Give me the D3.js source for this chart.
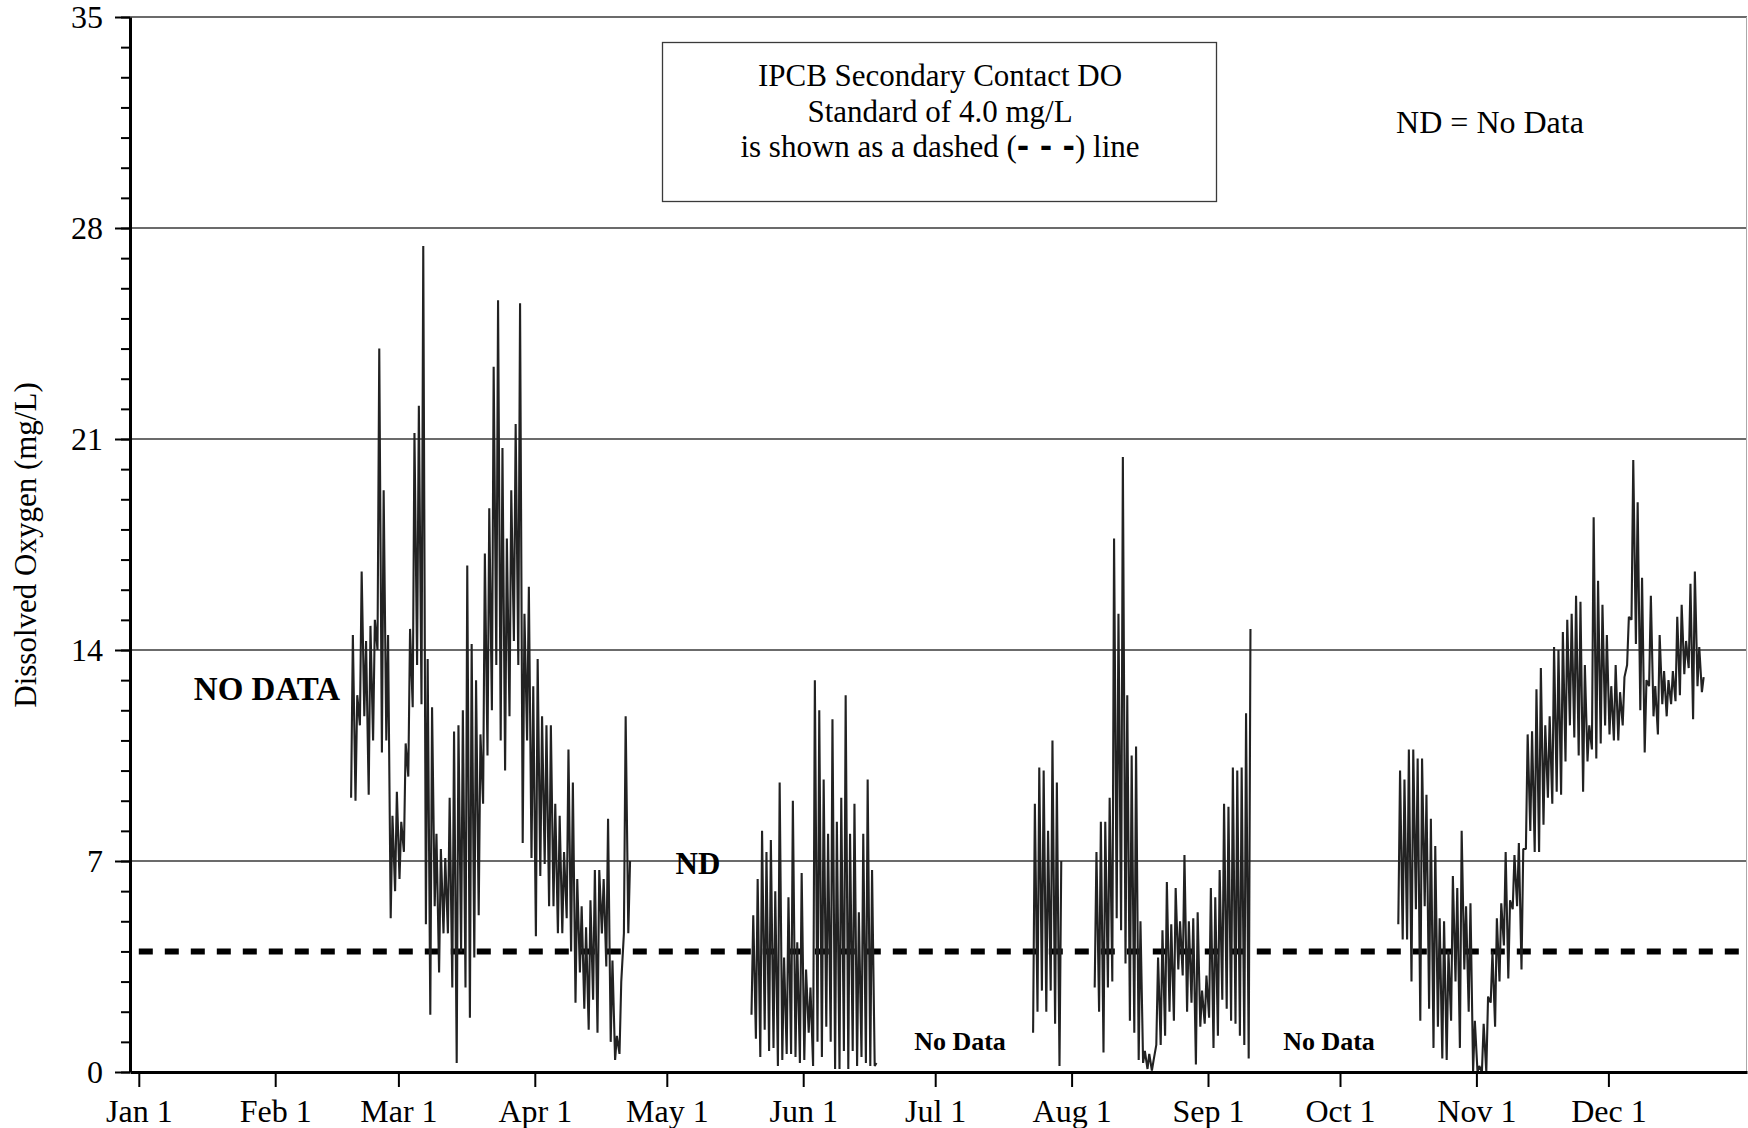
<!DOCTYPE html>
<html>
<head>
<meta charset="utf-8">
<script src="https://cdn.jsdelivr.net/npm/d3@7"></script>
<style>
  body { margin: 0; background: #fff; }
  svg { display: block; font-family: "Liberation Serif", "Times New Roman", serif; }
</style>
</head>
<body>
<svg id="chart" width="1748" height="1128"></svg>
<script>
// ---- data ----
const monthLabels = ["Jan 1", "Feb 1", "Mar 1", "Apr 1", "May 1", "Jun 1",
                     "Jul 1", "Aug 1", "Sep 1", "Oct 1", "Nov 1", "Dec 1"];
const yMajorTicks = [0, 7, 14, 21, 28, 35];
const standardDO = 4.0;

// each record stretch: first day of year (0 = Jan 1) and daily high / low DO (mg/L)
const seg1Start = 48;
const seg1High = [14.5, 12.5, 16.6, 14.3, 14.8, 15.0, 24.0, 19.3, 14.5, 8.5, 9.3, 8.3, 10.9, 14.7, 21.2, 22.1,
                  27.4, 13.7, 12.1, 7.9, 7.4, 7.1, 9.1, 11.3, 11.5, 12.0, 16.8, 14.2, 13.0, 11.2, 17.2, 18.7,
                  23.4, 25.6, 20.7, 17.7, 19.3, 21.5, 25.5, 15.2, 16.1, 12.8, 13.7, 11.8, 11.5, 11.5, 8.9, 8.5,
                  7.3, 10.7, 9.6, 6.4, 5.5, 4.8, 5.7, 6.7, 6.7, 6.4, 8.4, 3.7, 1.2, 3.0, 11.8, 7.0];
const seg1Low  = [9.1, 9.0, 11.5, 11.8, 9.2, 11.0, 14.0, 10.6, 11.0, 5.1, 6.0, 6.4, 7.3, 9.8, 12.1, 13.5,
                  12.2, 4.9, 1.9, 5.5, 3.3, 4.6, 4.6, 2.8, 0.3, 4.0, 2.8, 1.8, 3.8, 5.2, 8.9, 10.5,
                  12.0, 13.5, 11.0, 10.0, 11.8, 14.3, 13.5, 7.6, 11.0, 7.1, 4.5, 6.5, 6.9, 5.5, 5.5, 4.6,
                  4.6, 5.1, 4.0, 2.3, 3.3, 2.1, 1.4, 2.4, 1.3, 4.6, 3.5, 1.0, 0.4, 0.6, 4.6, 4.6];

const seg2Start = 139;
const seg2High = [5.2, 6.4, 8.0, 7.3, 7.7, 6.0, 9.6, 3.8, 5.8, 9.0, 4.3, 6.6, 3.4, 2.8, 13.0, 12.0,
                  9.7, 7.9, 11.7, 8.3, 9.1, 12.5, 7.9, 8.9, 5.3, 7.9, 9.7, 6.7, 0.3];
const seg2Low  = [1.9, 1.1, 0.5, 1.4, 0.7, 0.8, 0.2, 0.4, 0.6, 0.6, 0.5, 0.3, 0.4, 1.3, 0.2, 1.0,
                  0.5, 1.5, 1.0, 0.1, 0.1, 0.7, 0.1, 0.7, 0.2, 0.5, 0.3, 0.2, 0.2];

const seg3Start = 203;
const seg3High = [8.9, 10.1, 10.0, 8.0, 11.0, 9.6, 7.0];
const seg3Low  = [1.3, 2.0, 2.7, 2.0, 2.7, 1.6, 0.2];

const seg4Start = 217;
const seg4High = [7.3, 8.3, 8.3, 9.1, 17.7, 15.2, 20.4, 12.5, 10.5, 10.8, 5.0, 0.7, 0.6, 0.4, 3.8, 4.7,
                  6.3, 4.9, 6.1, 5.0, 7.2, 5.0, 5.1, 5.3, 2.7, 3.2, 6.1, 5.8, 6.7, 8.9, 8.8, 10.1,
                  10.0, 10.1, 11.9, 14.7];
const seg4Low  = [2.8, 2.0, 0.65, 2.8, 3.0, 5.1, 4.7, 3.6, 1.7, 1.3, 0.4, 0.3, 0.1, 0.05, 0.9, 0.9,
                  1.2, 2.0, 1.7, 3.4, 3.2, 2.0, 2.3, 0.25, 1.5, 1.6, 1.8, 0.8, 1.2, 2.4, 2.1, 1.7,
                  1.6, 1.2, 0.9, 0.45];

const seg5Start = 286;
const seg5High = [10.0, 9.7, 10.7, 10.7, 10.4, 10.4, 9.2, 8.4, 7.5, 5.1, 5.0, 4.0, 6.5, 6.1, 8.0, 5.5,
                  5.6, 1.7, 0.2, 1.6, 2.5, 4.0, 5.1, 5.6, 7.3, 5.7, 7.2, 7.6, 7.4, 11.2, 11.3, 12.7,
                  13.4, 11.5, 11.8, 14.1, 14.0, 14.6, 15.0, 15.2, 15.8, 15.6, 13.5, 11.5, 18.4, 16.3, 15.5, 14.5,
                  12.8, 13.5, 12.6, 13.1, 15.1, 20.3, 18.9, 16.4, 13.0, 15.8, 12.8, 14.5, 13.3, 13.0, 13.3, 15.1,
                  15.5, 14.3, 16.2, 16.6, 14.1, 13.1];
const seg5Low  = [4.9, 4.4, 4.4, 3.0, 5.4, 1.7, 5.5, 2.1, 0.8, 1.5, 0.45, 0.4, 1.7, 3.0, 0.8, 3.4,
                  2.0, 0.0, 0.0, 0.0, 0.0, 2.3, 1.5, 3.0, 4.2, 3.1, 5.4, 5.5, 3.4, 7.4, 8.0, 7.3,
                  7.3, 8.2, 9.1, 8.9, 9.3, 9.2, 10.3, 11.5, 11.1, 10.5, 9.3, 10.3, 10.7, 10.4, 10.9, 11.5,
                  11.2, 11.0, 11.0, 11.5, 13.5, 15.0, 14.2, 12.0, 10.6, 12.8, 11.8, 11.2, 12.2, 11.8, 12.2, 12.3,
                  12.5, 13.2, 13.4, 11.7, 12.8, 12.6];

// ---- layout ----
const svg = d3.select("#chart");
const plotLeft = 130, plotRight = 1747, plotTop = 17, plotBottom = 1072;
const year = 2021;
const day = d => new Date(Date.UTC(year, 0, 1) + d * 86400000);

const x = d3.scaleUtc()
  .domain([day(-2), day(365.5)])
  .range([plotLeft, plotRight]);
const y = d3.scaleLinear()
  .domain([0, 35])
  .range([plotBottom, plotTop]);

// horizontal gridlines
svg.append("g")
  .selectAll("line")
  .data(yMajorTicks.filter(v => v > 0))
  .enter().append("line")
  .attr("x1", plotLeft).attr("x2", plotRight)
  .attr("y1", d => y(d)).attr("y2", d => y(d))
  .style("stroke", "#3a3a3a")
  .style("stroke-width", 1.3);

// right frame edge
svg.append("line")
  .attr("x1", plotRight - 0.5).attr("x2", plotRight - 0.5)
  .attr("y1", y(35)).attr("y2", y(0))
  .style("stroke", "#aaa")
  .style("stroke-width", 1);

// standard line
svg.append("line")
  .attr("x1", x(day(0))).attr("x2", x(day(364)))
  .attr("y1", y(standardDO)).attr("y2", y(standardDO))
  .style("stroke", "#000")
  .style("stroke-width", 6)
  .style("stroke-dasharray", "14,12");

// DO record: low in the early morning, high in the afternoon
function toPoints(start, hi, lo) {
  const pts = [];
  hi.forEach((h, i) => {
    pts.push({ t: day(start + i + 0.25), v: lo[i] });
    pts.push({ t: day(start + i + 0.65), v: h });
  });
  return pts;
}
const segments = [
  toPoints(seg1Start, seg1High, seg1Low),
  toPoints(seg2Start, seg2High, seg2Low),
  toPoints(seg3Start, seg3High, seg3Low),
  toPoints(seg4Start, seg4High, seg4Low),
  toPoints(seg5Start, seg5High, seg5Low)
];
const line = d3.line().x(d => x(d.t)).y(d => y(d.v));

svg.append("g")
  .selectAll("path")
  .data(segments)
  .enter().append("path")
  .attr("d", line)
  .style("fill", "none")
  .style("stroke", "#222")
  .style("stroke-width", 2.1)
  .style("stroke-linejoin", "bevel");

// y axis: minor ticks every 1 mg/L, labelled ticks every 7
svg.append("g")
  .attr("transform", `translate(${plotLeft},0)`)
  .call(d3.axisLeft(y).tickValues(d3.range(0, 36)).tickSize(9).tickFormat(""))
  .call(g => g.select(".domain").remove())
  .call(g => g.selectAll("line").style("stroke-width", 2));

const yAxis = svg.append("g")
  .attr("transform", `translate(${plotLeft},0)`)
  .call(d3.axisLeft(y).tickValues(yMajorTicks).tickSize(15).tickPadding(12).tickSizeOuter(0));
yAxis.select(".domain").style("stroke-width", 3);
yAxis.selectAll("line").style("stroke-width", 2);
yAxis.selectAll("text")
  .style("font-family", "Liberation Serif, Times New Roman, serif")
  .style("font-size", "32px")
  .attr("fill", "#000");

// x axis
const xAxis = svg.append("g")
  .attr("transform", `translate(0,${plotBottom})`)
  .call(d3.axisBottom(x)
    .tickValues(monthLabels.map((m, i) => new Date(Date.UTC(year, i, 1))))
    .tickFormat((d, i) => monthLabels[i])
    .tickSize(15).tickPadding(12).tickSizeOuter(0));
xAxis.select(".domain").style("stroke-width", 3);
xAxis.selectAll("line").style("stroke-width", 2);
xAxis.selectAll("text")
  .style("font-family", "Liberation Serif, Times New Roman, serif")
  .style("font-size", "32px")
  .attr("fill", "#000");

// y title
svg.append("text")
  .attr("transform", "translate(36,545) rotate(-90)")
  .attr("text-anchor", "middle")
  .style("font-size", "31px")
  .text("Dissolved Oxygen (mg/L)");

// legend box
svg.append("rect")
  .attr("x", 662.5).attr("y", 42.5)
  .attr("width", 554).attr("height", 159)
  .style("fill", "none")
  .style("stroke", "#3a3a3a")
  .style("stroke-width", 1.3);

const box = svg.append("g")
  .attr("text-anchor", "middle")
  .style("font-size", "31px");
box.append("text").attr("x", 940).attr("y", 86).text("IPCB Secondary Contact DO");
box.append("text").attr("x", 940).attr("y", 122).text("Standard of 4.0 mg/L");
const l3 = box.append("text").attr("x", 940).attr("y", 157);
l3.append("tspan").text("is shown as a dashed (");
l3.append("tspan")
  .style("font-family", "DejaVu Sans")
  .style("font-weight", "bold")
  .style("font-size", "30px")
  .text("- - -");
l3.append("tspan").text(") line");

svg.append("text")
  .attr("x", 1490).attr("y", 133)
  .attr("text-anchor", "middle")
  .style("font-size", "32px")
  .text("ND = No Data");

// gap annotations
svg.append("text")
  .attr("x", 267).attr("y", 700)
  .attr("text-anchor", "middle")
  .style("font-size", "33px").style("font-weight", "bold")
  .text("NO DATA");
svg.append("text")
  .attr("x", 698).attr("y", 874)
  .attr("text-anchor", "middle")
  .style("font-size", "31px").style("font-weight", "bold")
  .text("ND");
svg.selectAll(".nodata")
  .data([960, 1329])
  .enter().append("text")
  .attr("class", "nodata")
  .attr("x", d => d).attr("y", 1050)
  .attr("text-anchor", "middle")
  .style("font-size", "26px").style("font-weight", "bold")
  .text("No Data");
</script>
</body>
</html>
